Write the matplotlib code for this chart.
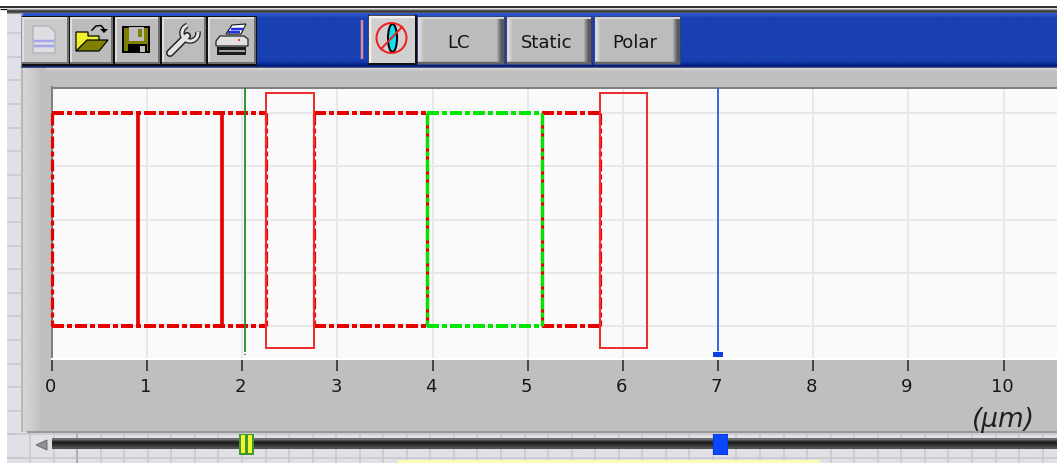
import numpy as np
import matplotlib
matplotlib.use("Agg")
import matplotlib.pyplot as plt
from matplotlib.patches import Rectangle, Polygon, Ellipse, Arc, Circle
from matplotlib.transforms import ScaledTranslation

# ---------- data ----------
x_ticks = [0, 1, 2, 3, 4, 5, 6, 7, 8, 9, 10]
y_grid = [-1, -0.5, 0, 0.5, 1]
x_unit = "(μm)"
button_labels = ["LC", "Static", "Polar"]
aperture_half = 1.0
box_top = 1.19
box_bottom = -1.205
thin_elements = [0.905, 1.79]
red_sections = [(0.0, 2.25), (2.75, 3.94), (5.145, 5.755)]
green_sections = [(3.94, 5.145)]
boxes = [(2.25, 2.75), (5.755, 6.25)]
green_cursor = 2.025
blue_cursor = 7.0

W, H = 1057, 464
RED = "#e60000"
GREEN = "#00e600"
plt.rcParams["lines.scale_dashes"] = False
px = 0.72
DASH = (0, (12 * px, 3 * px, 5 * px, 3 * px))

fig = plt.figure(figsize=(W / 100, H / 100), dpi=100, facecolor="white")

# ---------- window chrome, in pixel coordinates ----------
bg = fig.add_axes([0, 0, 1, 1], zorder=0)
bg.set_axis_off()


def rect(x0, y0, x1, y1, color, z=1, **kw):
    bg.add_patch(Rectangle((x0, y0), x1 - x0, y1 - y0, facecolor=color, edgecolor="none", zorder=z, **kw))


def hline(y, x0, x1, color, lw=1.0, z=2):
    bg.plot([x0, x1], [y, y], color=color, lw=lw * px, zorder=z, solid_capstyle="butt")


def vline(x, y0, y1, color, lw=1.0, z=2):
    bg.plot([x, x], [y0, y1], color=color, lw=lw * px, zorder=z, solid_capstyle="butt")


def grad(x0, y0, x1, y1, colors, horizontal=False, z=2):
    rgb = np.array([matplotlib.colors.to_rgb(c) for c in colors])
    img = rgb[None, :, :] if horizontal else rgb[:, None, :]
    bg.imshow(img, extent=(x0, x1, y1, y0), aspect="auto", zorder=z, interpolation="bilinear")


def poly(points, fc, ec="none", lw=1.0, z=5):
    bg.add_patch(Polygon(points, closed=True, facecolor=fc, edgecolor=ec, lw=lw * px, zorder=z))


# tiled panel background
rect(7, 9, W, H, "#e0e0e6", z=0)
for gy in np.arange(10.5, 464, 23.6):
    hline(gy + 0.0, 7, 21, "#c6c6cc", 1.5, z=1)
for gy in (435, 459):
    hline(gy, 7, W, "#c6c6cc", 1.5, z=1)
for gx in np.arange(30, W, 23.55):
    vline(gx, 432, H, "#c6c6cc", 1.5, z=1)
vline(77, 432, H, "#b0b0b4", 2, z=1)

# top rules
hline(8, 0, W, "black", 1.6)
hline(9.5, 0, 7, "black", 1.2)
grad(7, 10, W, 15, ["#a0a0a0", "#303030", "#404040", "#909090"])

# gray panel
rect(21, 68, W, 433, "#bfbfbf", z=1)
grad(21, 68, 46, 433, ["#d4d4d4", "#cccccc", "#bfbfbf"], horizontal=True)
grad(46, 68, W, 74, ["#dcdcdc", "#c8c8c8", "#bfbfbf"])
vline(21.5, 14, 433, "#b0b0b4", 1.5, z=3)
hline(432.5, 27, W, "#9a9a9a", 2, z=3)

# blue toolbar
grad(21, 14, W, 68, ["#2c54cc"] + ["#1840b2"] * 13 + ["#143aa8", "#001c84"])
hline(68, 21, W, "#1a2a70", 1.5, z=3)

# tool buttons
tool_edges = [(22, 69), (70, 113), (115, 160), (162, 206), (208, 256)]
rect(22, 17, 257, 67, "#101010", z=3)
for i, (a, b) in enumerate(tool_edges):
    rect(a, 18, b, 65, "#c9c9c9" if i == 0 else "#bcbcbc", z=4)
    hline(19, a, b, "#dedede", 2, z=4.5)
    vline(a + 1, 18, 65, "#dedede", 2, z=4.5)
    hline(64, a, b, "#707070", 2, z=4.5)
    vline(b - 1, 18, 65, "#707070", 2, z=4.5)

# new document
poly([(33, 27), (49, 27), (55, 33), (55, 54), (33, 54)], "#dddde2", "#b4b4bc", 1.5)
for yy in (42, 47):
    hline(yy, 34, 54, "#a4a4ec", 2.5, z=6)
# open folder
poly([(76, 33), (88, 33), (88, 37), (99, 37), (99, 42), (76, 52)], "#f0f030", "black", 1.2)
poly([(76, 52), (87, 41), (108, 41), (99, 52)], "#808000", "black", 1.2, z=6)
bg.plot([92, 96, 101, 104], [31, 27, 26.5, 30], color="black", lw=1.5 * px, zorder=6)
poly([(100, 30), (108, 30), (104, 34)], "black", z=6)
# floppy
rect(122, 27, 150, 54, "black", z=5)
rect(124, 29, 148, 52, "#808000", z=5.5)
rect(129, 28, 144, 42, "#bebebe", z=6)
rect(138, 30, 142, 38, "#808000", z=6.5)
rect(128, 45, 147, 54, "black", z=6)
rect(140, 47, 145, 53, "#bebebe", z=6.5)
# wrench
bg.plot([170, 187], [54, 37], color="#202020", lw=8 * px, zorder=5, solid_capstyle="round")
bg.plot([170, 187], [54, 37], color="#e4e4e4", lw=5 * px, zorder=5.2, solid_capstyle="round")
bg.add_patch(Arc((190, 34), 16, 16, theta1=-10, theta2=250, edgecolor="#202020", lw=5.5 * px, zorder=5))
bg.add_patch(Arc((190, 34), 16, 16, theta1=-10, theta2=250, edgecolor="#e4e4e4", lw=3 * px, zorder=5.2))
# printer
poly([(226, 35), (232, 26), (246, 25), (241, 35)], "white", "#202020", 1.2)
hline(29.5, 231, 243, "#2030e0", 2.5, z=6)
hline(33, 228, 240, "#2030e0", 2.5, z=6)
poly([(216, 42), (220, 37), (244, 37), (248, 40), (248, 47), (216, 47)], "#e0e0e0", "#202020", 1.2)
rect(217, 48, 246, 56, "#1a1a1a", z=5)
hline(51.5, 219, 245, "#a0a0a0", 2, z=6)
bg.add_patch(Circle((239, 41), 1, facecolor="#e02020", zorder=6))

# divider + ellipse button
vline(362, 21, 60, "#e08a9a", 2.5, z=4)
rect(368, 16, 417, 66, "#101010", z=4)
rect(369, 17, 415, 64, "#d0d0d0", z=4.2)
hline(18, 369, 415, "#f0f0f0", 2.5, z=4.4)
vline(370, 17, 64, "#f0f0f0", 2.5, z=4.4)
bg.add_patch(Ellipse((392.5, 39), 9, 28, facecolor="#10e0f0", edgecolor="black", lw=2 * px, zorder=5))
bg.add_patch(Circle((391.5, 39), 15, facecolor="none", edgecolor="#f02020", lw=2 * px, zorder=6))
bg.plot([381, 402], [50, 28], color="#f02020", lw=2 * px, zorder=6)

# text buttons
for (a, b), label in zip([(418, 504), (507, 591), (595, 680)], button_labels):
    rect(a - 2, 17, b + 1, 66, "#30408a", z=3)
    rect(a, 18, b, 65, "#bcbcbc", z=4)
    grad(a, 18, a + 8, 65, ["#dcdcdc", "#bcbcbc"], horizontal=True, z=4.2)
    grad(b - 10, 18, b, 65, ["#bcbcbc", "#5a5a5a"], horizontal=True, z=4.2)
    hline(19, a, b, "#d4d4d4", 2, z=4.4)
    hline(64, a, b, "#666666", 2.5, z=4.4)
    bg.text((a + b) / 2 - 2.5, 42.5, label, ha="center", va="center", fontsize=13, color="#141414", zorder=7)

# slider
arrow = [(36, 446), (47, 441), (47, 451)]
poly(arrow, "#909094", "#707074", 1.0, z=4)
grad(52, 439, W, 450, ["#707070", "#1c1c1c", "#303030", "#505050"], z=4)
rect(239, 435, 254, 456, "#3a9a30", z=5)
rect(241, 436, 245, 454, "#f4f430", z=6)
rect(248, 436, 252, 454, "#f4f430", z=6)
rect(713, 435, 728, 456, "#0a3ae6", z=5)
rect(714, 436, 727, 455, "#0848ff", z=6)
# yellow note at the bottom
rect(398, 461, 820, H, "#fdfbb0", z=3)

bg.set_xlim(0, W)
bg.set_ylim(H, 0)

# ---------- the plot ----------
x_left, x_right, y_top, y_bot = 52.0, W, 88.5, 359.5
ax = fig.add_axes([x_left / W, 1 - y_bot / H, (x_right - x_left) / W, (y_bot - y_top) / H], zorder=2)
ax.set_facecolor("#fafafa")
ax.set_xlim(0, (W - x_left) / 95.15)
ax.set_ylim(-1.305, 1.24)
ax.set_xticks(x_ticks)
ax.set_yticks(y_grid)
ax.grid(True, color="#e8e8e8", lw=2 * px, zorder=0)
ax.set_axisbelow(True)
ax.tick_params(axis="x", direction="out", length=12 * px, width=1.5 * px, color="#202020",
               pad=5, labelsize=13, labelcolor="#181818", top=False)
ax.tick_params(axis="y", length=0, labelleft=False)
shift = ScaledTranslation(-1.5 / 100, 0, fig.dpi_scale_trans)
for lab in ax.get_xticklabels():
    lab.set_transform(lab.get_transform() + shift)
ax.spines["right"].set_visible(False)
ax.spines["top"].set_color("#808080")
ax.spines["top"].set_linewidth(2 * px)
ax.spines["left"].set_color("#808080")
ax.spines["left"].set_linewidth(2 * px)
ax.spines["bottom"].set_color("white")
ax.spines["bottom"].set_linewidth(2 * px)

LW_H = 4 * px
LW_V = 3.2 * px


def dashed(xs, ys, color, z=3, lw=LW_H):
    ax.plot(xs, ys, color=color, lw=lw, ls=DASH, dash_capstyle="butt", zorder=z, clip_on=False)


for a, b in red_sections:
    for yv in (aperture_half, -aperture_half):
        dashed([a, b], [yv, yv], RED)
    for xv in (a, b):
        if xv in (3.94, 5.145):
            continue
        dashed([xv, xv], [aperture_half, -aperture_half], RED, lw=LW_V)

for a, b in green_sections:
    for yv in (aperture_half, -aperture_half):
        dashed([a, b], [yv, yv], GREEN, z=3.2)
    for xv in (a, b):
        ax.plot([xv, xv], [aperture_half, -aperture_half], color=RED, lw=LW_V, zorder=3, solid_capstyle="butt")
        dashed([xv, xv], [aperture_half, -aperture_half], GREEN, z=3.2, lw=LW_V)

for xv in thin_elements:
    ax.plot([xv, xv], [aperture_half, -aperture_half], color=RED, lw=LW_V + 0.5 * px, zorder=3,
            solid_capstyle="butt")

for a, b in boxes:
    ax.plot([a, b, b, a, a], [box_top, box_top, box_bottom, box_bottom, box_top],
            color="#ec3030", lw=2 * px, zorder=4, solid_joinstyle="miter")

ax.plot([green_cursor] * 2, [1.24, -1.245], color="#1c8c2c", lw=1.8 * px, zorder=5, solid_capstyle="butt")
ax.plot([green_cursor] * 2, [-1.262, -1.275], color="#1c8c2c", lw=1.8 * px, zorder=5, solid_capstyle="butt")
ax.plot([blue_cursor] * 2, [1.24, -1.23], color="#3a6ae0", lw=2 * px, zorder=5, solid_capstyle="butt")
ax.plot([blue_cursor] * 2, [-1.24, -1.29], color="#0a40e0", lw=10 * px, zorder=5, solid_capstyle="butt")

ax.set_xlabel(x_unit, fontsize=19, style="italic", color="#202020", labelpad=0)
ax.xaxis.set_label_coords((1003 - x_left) / (W - x_left), -(420 - 359.5) / (y_bot - y_top))
ax.xaxis.label.set_va("center")

fig.savefig("out.png", dpi=100, facecolor="white")
